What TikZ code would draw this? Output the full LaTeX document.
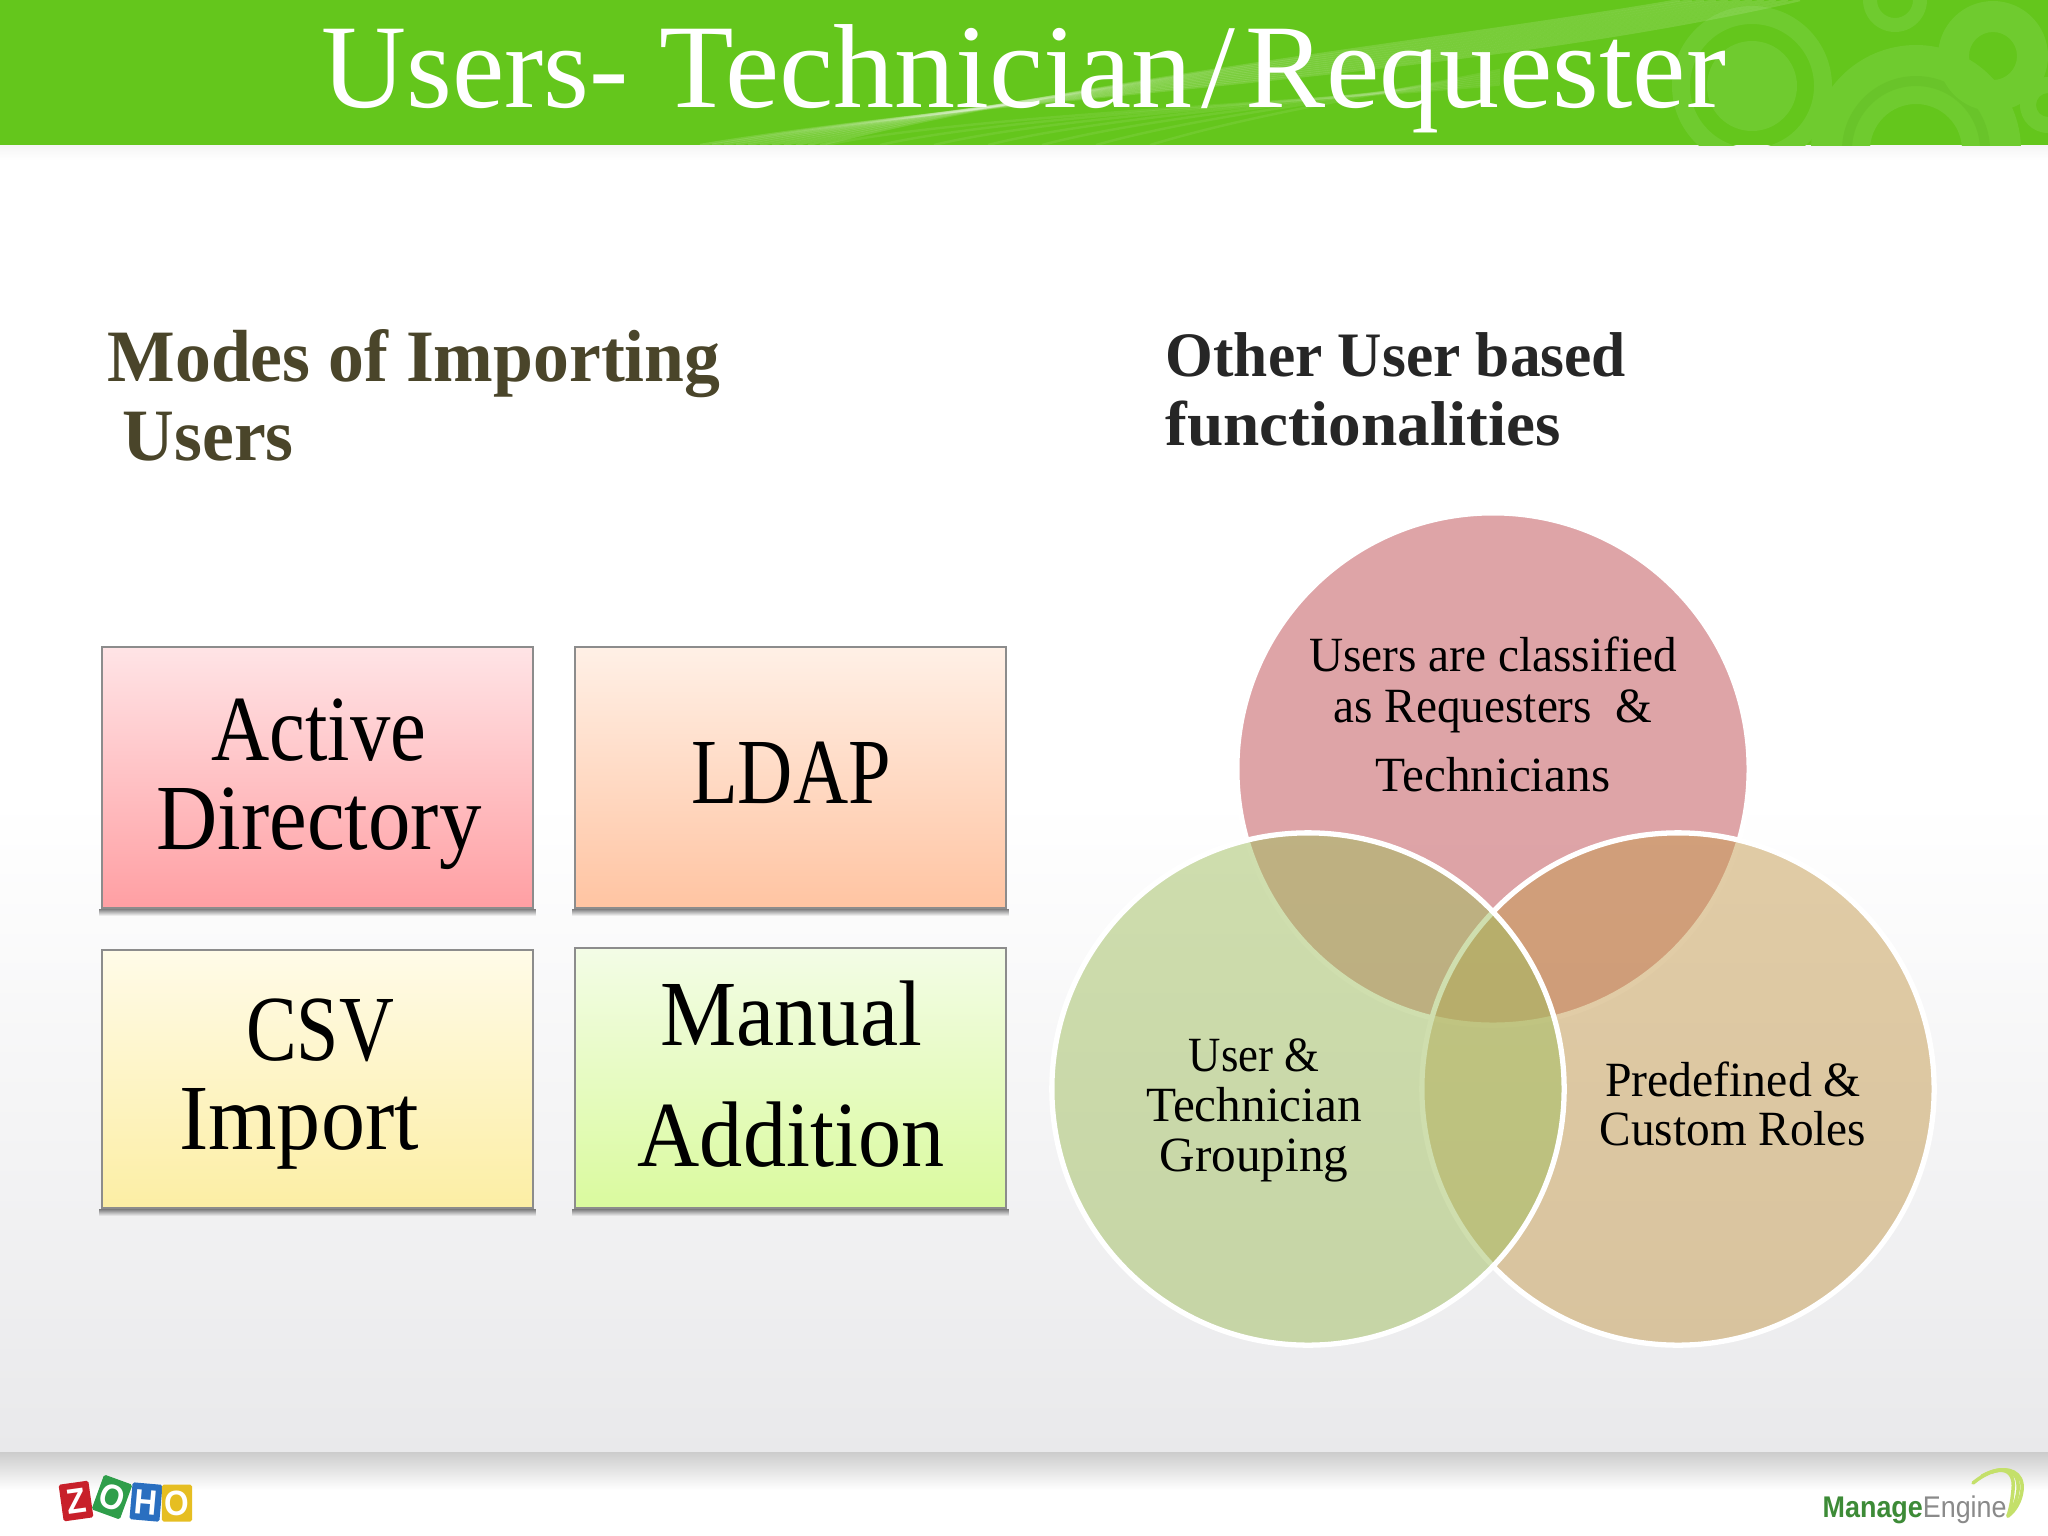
\documentclass[tikz,border=0pt]{standalone}
\usepackage{fontspec}
\usepackage{graphicx}
\usetikzlibrary{fadings,calc}
\setmainfont{Liberation Serif}
\newfontfamily\titlef[FakeStretch=1.02]{Liberation Serif}
\newfontfamily\headLf[FakeStretch=0.97]{Liberation Serif}
\newfontfamily\headRf[FakeStretch=0.97]{Liberation Serif}
\newfontfamily\boxf{Liberation Serif}
\newfontfamily\vennf{Liberation Serif}
\newfontfamily\logof[FakeStretch=0.9]{Liberation Sans}
\newcommand{\sx}[2]{\scalebox{#1}[1]{#2}}
\definecolor{bandgreen}{HTML}{64C61C}
\definecolor{bandlight}{HTML}{6FCB2F}
\definecolor{headL}{HTML}{4A452A}
\definecolor{headR}{HTML}{262626}
\definecolor{bgend}{HTML}{E9E9EB}
\definecolor{aT}{HTML}{FFE4E6}\definecolor{aB}{HTML}{FF9FA3}
\definecolor{bT}{HTML}{FFF0E6}\definecolor{bB}{HTML}{FFC4A2}
\definecolor{cT}{HTML}{FFFBE8}\definecolor{cB}{HTML}{FCEEA4}
\definecolor{dT}{HTML}{F3FCE6}\definecolor{dB}{HTML}{DAFA9E}
\definecolor{vTop}{HTML}{BF4B51}
\definecolor{vLeft}{HTML}{A0BE5E}
\definecolor{vRight}{HTML}{C59B4F}
\definecolor{zRed}{HTML}{C8202A}
\definecolor{zGreen}{HTML}{2F9E4A}
\definecolor{zBlue}{HTML}{2A6FC0}
\definecolor{zYellow}{HTML}{E6BE22}
\definecolor{meGreen}{HTML}{3D8B37}
\definecolor{meGray}{HTML}{8A8A8A}
\definecolor{meArc}{HTML}{C4E06A}
\tikzset{
  x=0.01cm,y=-0.01cm,
  boxn/.style={rectangle,draw=black!45,line width=0.4pt,inner sep=0pt,minimum width=4.31cm},
  boxshadow/.style={fill=black,opacity=0.5,path fading=south},
  boxtxt/.style={text=black,inner sep=0pt,anchor=base,font=\boxf\fontsize{26.5}{25.3}\selectfont},
  venn/.style={circle,draw=white,line width=1.5pt,fill opacity=0.5,draw opacity=1,
    minimum size=5.12cm,inner sep=0pt},
  venntxt/.style={text=black,inner sep=0pt,anchor=base,
    font=\vennf\fontsize{14}{14.2}\selectfont},
  tile/.style={rectangle,minimum width=0.30cm,minimum height=0.37cm,inner sep=0pt,rounded corners=0.5pt,text=white,
    font=\logof\bfseries\fontsize{10}{10}\selectfont},
  swoosh/.style={line width=1.0pt,line cap=round,draw=meArc},
  sweep/.style={white,opacity=0.13,line width=0.7pt},
  headL/.style={inner sep=0pt,anchor=base west,text=headL,font=\headLf\bfseries\fontsize{21}{22}\selectfont},
  headR/.style={inner sep=0pt,anchor=base west,text=headR,font=\headRf\bfseries\fontsize{18}{19}\selectfont}
}
\begin{document}
\begin{tikzpicture}
\useasboundingbox (0,0) rectangle (2048,1536);
% background
\fill[white] (0,0) rectangle (2048,1536);
\shade[top color=white,bottom color=bgend] (0,800) rectangle (2048,1452);
% footer
\fill[white] (0,1452) rectangle (2048,1536);
\shade[top color=black!20,bottom color=white] (0,1452) rectangle (2048,1490);
% title band
\shade[top color=black!4,bottom color=white] (0,145) rectangle (2048,160);
\fill[bandgreen] (0,0) rectangle (2048,145);
\begin{scope}
  \clip (0,0) rectangle (2048,145);
  \fill[bandlight,even odd rule] (1752,86) circle[radius=45] (1752,86) circle[radius=62] (1752,86) circle[radius=80];
  \fill[bandlight,even odd rule] (1916,150) circle[radius=46] (1916,150) circle[radius=105];
  \fill[bandgreen!85!black,opacity=0.2,even odd rule] (1916,150) circle[radius=64] (1916,150) circle[radius=74];
  \fill[bandlight,even odd rule] (1993,56) circle[radius=24] (1993,56) circle[radius=55];
  \fill[bandlight,even odd rule] (1895,0) circle[radius=18] (1895,0) circle[radius=32];
  \fill[bandlight,even odd rule] (2048,105) circle[radius=12] (2048,105) circle[radius=28];
  \foreach \d in {0,4,...,40}{
    \draw[sweep] (700+\d*3,145) .. controls (1000+\d*2,95-\d*0.4) and (1450,80-\d) .. (1800-\d*3,0);
  }
  \foreach \d in {0,6,...,36}{
    \draw[sweep,opacity=0.08] (1150-\d*9,145) .. controls (1250-\d*8,115) and (1350,100) .. (1500,70+\d*0.4);
  }
\end{scope}
% title
\node[inner sep=0pt,anchor=base,text=white,font=\titlef\fontsize{34}{36}\selectfont] (title) at (1024,107) {\sx{0.965}{Users-} Technician\kern2.5pt/\kern3pt\sx{0.985}{Requester}};
% headings
\node[headL] (headA) at (107,381) {Modes of Importing};
\node[headL] (headB) at (122,460) {Users};
\node[headR] (headC) at (1165,376) {Other User based};
\node[headR] (headD) at (1165,445) {\sx{1.062}{functionalities}};
% boxes
\node[boxn,minimum height=2.61cm,top color=aT,bottom color=aB] (boxA) at (317.5,777.5) {};
\node[boxn,minimum height=2.61cm,top color=bT,bottom color=bB] (boxB) at (790.5,777.5) {};
\node[boxn,minimum height=2.58cm,top color=cT,bottom color=cB] (boxC) at (317.5,1079) {};
\node[boxn,minimum height=2.60cm,top color=dT,bottom color=dB] (boxD) at (790.5,1078) {};
\foreach \b in {boxA,boxB,boxC,boxD}{
  \fill[boxshadow] ($(\b.south west)+(-2,0)$) rectangle ($(\b.south east)+(2,7)$);
}
\node[boxtxt] (tA) at (319,760) {\sx{0.865}{Active}};
\node[boxtxt] (tA2) at (319,849) {\sx{0.91}{Directory}};
\node[boxtxt] (tB) at (791,803) {\sx{0.82}{LDAP}};
\node[boxtxt] (tC) at (320,1060) {\sx{0.815}{CSV}};
\node[boxtxt] (tC2) at (299,1149) {\sx{0.945}{Import}};
\node[boxtxt] (tD) at (791,1045) {\sx{0.92}{Manual}};
\node[boxtxt] (tD2) at (791,1166) {\sx{0.925}{Addition}};
% venn
\node[venn,fill=vTop] (vT) at (1493,769) {};
\node[venn,fill=vRight] (vR) at (1678,1089) {};
\node[venn,fill=vLeft] (vL) at (1308,1089) {};
\node[venntxt] (v1) at (1493,671) {\sx{0.96}{Users are classified}};
\node[venntxt] (v2) at (1493,722) {\sx{0.96}{as Requesters\ \ \&}};
\node[venntxt] (v3) at (1493,791) {Technicians};
\node[venntxt] (v4) at (1254,1071) {\sx{0.91}{User \&}};
\node[venntxt] (v5) at (1254,1121) {Technician};
\node[venntxt] (v6) at (1254,1171) {Grouping};
\node[venntxt] (v7) at (1733,1096) {\sx{0.97}{Predefined \&}};
\node[venntxt] (v8) at (1733,1145) {\sx{0.96}{Custom Roles}};
% zoho logo
\node[tile,fill=zRed,rotate=8] (z1) at (76,1501) {Z};
\node[tile,fill=zGreen,rotate=-20] (z2) at (112,1497) {O};
\node[tile,fill=zBlue,rotate=-5] (z3) at (146,1502) {H};
\node[tile,fill=zYellow] (z4) at (177,1503) {O};
% manageengine logo
\node[inner sep=0pt,anchor=base west,font=\logof\fontsize{8.5}{9}\selectfont] (me) at (1822,1517) {\textcolor{meGreen}{\bfseries Manage}\textcolor{meGray}{Engine}};
\coordinate (sA) at (1973,1483);
\coordinate (sB) at (2008,1516);
\draw[swoosh] (sA) .. controls (1995,1465) and (2016,1465) .. (2013,1490) .. controls (2012,1502) and (2010,1510) .. (sB);
\draw[swoosh] (1982,1476) .. controls (2002,1465) and (2020,1468) .. (2018,1490) .. controls (2017,1500) and (2013,1510) .. (sB);
\draw[swoosh] (1992,1472) .. controls (2008,1466) and (2024,1472) .. (2022,1490) .. controls (2021,1500) and (2016,1510) .. (sB);
\end{tikzpicture}
\end{document}
